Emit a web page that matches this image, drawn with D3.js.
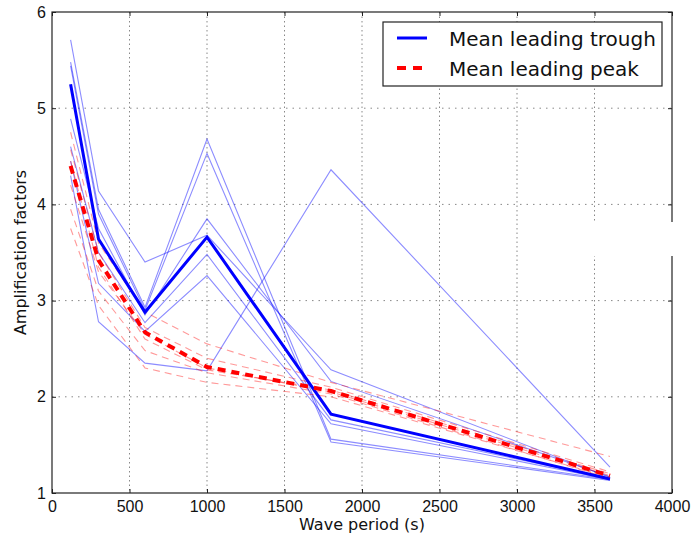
<!DOCTYPE html>
<html>
<head>
<meta charset="utf-8">
<script src="https://cdn.jsdelivr.net/npm/d3@7"></script>
<style>
  body { margin: 0; background: #fff; }
  svg { display: block; font-family: "DejaVu Sans", sans-serif; }
</style>
</head>
<body>
<svg></svg>
<script>
// wave periods (s)
var periods = [120, 300, 600, 1000, 1800, 3600];

// individual runs, leading trough
var troughRuns = [
  [5.71, 4.14, 3.40, 3.68, 2.28, 1.16],
  [5.48, 3.95, 2.93, 4.68, 1.56, 1.14],
  [5.44, 3.90, 2.90, 4.53, 1.53, 1.13],
  [4.89, 3.75, 2.85, 3.85, 2.16, 1.17],
  [4.60, 3.50, 2.77, 3.48, 1.76, 1.15],
  [4.45, 3.18, 2.68, 3.26, 1.72, 1.14],
  [4.30, 2.78, 2.35, 2.27, 4.36, 1.27]
];

// individual runs, leading peak
var peakRuns = [
  [4.75, 3.60, 2.88, 2.55, 2.15, 1.38],
  [4.57, 3.50, 2.72, 2.40, 2.10, 1.22],
  [4.45, 3.35, 2.60, 2.28, 2.07, 1.20],
  [4.20, 3.30, 2.65, 2.30, 2.05, 1.18],
  [3.95, 3.10, 2.48, 2.25, 2.03, 1.15],
  [3.75, 2.95, 2.30, 2.15, 2.00, 1.16]
];

var troughMean = [5.25, 3.64, 2.88, 3.66, 1.82, 1.145];
var peakMean = [4.40, 3.42, 2.67, 2.31, 2.06, 1.18];

var xTicks = [0, 500, 1000, 1500, 2000, 2500, 3000, 3500, 4000];
var yTicks = [1, 2, 3, 4, 5, 6];
var legendLabels = ["Mean leading trough", "Mean leading peak"];

var screen = { width: 695, height: 538 };
var margins = { top: 12, bottom: 45, left: 52, right: 23 };
var width = screen.width - margins.left - margins.right;
var height = screen.height - margins.top - margins.bottom;

var svg = d3.select("svg")
            .attr("width", screen.width)
            .attr("height", screen.height);

var xScale = d3.scaleLinear().domain([0, 4000]).range([0, width]);
var yScale = d3.scaleLinear().domain([1, 6]).range([height, 0]);

var plot = svg.append("g")
              .attr("transform", "translate(" + margins.left + "," + margins.top + ")");

// grid
plot.append("g").selectAll("line")
    .data(xTicks.slice(1, -1))
    .enter().append("line")
    .attr("x1", d => xScale(d)).attr("x2", d => xScale(d))
    .attr("y1", 0).attr("y2", height)
    .attr("stroke", "#888").attr("stroke-width", 1)
    .attr("stroke-dasharray", "1.5,3");

plot.append("g").selectAll("line")
    .data(yTicks.slice(1, -1))
    .enter().append("line")
    .attr("y1", d => yScale(d)).attr("y2", d => yScale(d))
    .attr("x1", 0).attr("x2", width)
    .attr("stroke", "#888").attr("stroke-width", 1)
    .attr("stroke-dasharray", "1.5,5");

var line = d3.line()
             .x((d, i) => xScale(periods[i]))
             .y(d => yScale(d));

plot.append("g").selectAll("path")
    .data(troughRuns)
    .enter().append("path")
    .attr("d", line)
    .attr("fill", "none")
    .attr("stroke", "#0000ff")
    .attr("stroke-opacity", 0.45)
    .attr("stroke-width", 1.1);

plot.append("g").selectAll("path")
    .data(peakRuns)
    .enter().append("path")
    .attr("d", line)
    .attr("fill", "none")
    .attr("stroke", "#ff0000")
    .attr("stroke-opacity", 0.4)
    .attr("stroke-width", 1.1)
    .attr("stroke-dasharray", "7,5");

plot.append("path")
    .attr("d", line(troughMean))
    .attr("fill", "none")
    .attr("stroke", "#0000ff")
    .attr("stroke-width", 3);

plot.append("path")
    .attr("d", line(peakMean))
    .attr("fill", "none")
    .attr("stroke", "#ff0000")
    .attr("stroke-width", 4)
    .attr("stroke-dasharray", "8,6");

// axes with inward ticks, matplotlib style
var fmt = d3.format("d");
var xAxis = d3.axisBottom(xScale).tickValues(xTicks).tickFormat(fmt).tickSize(-4).tickPadding(8);
var yAxis = d3.axisLeft(yScale).tickValues(yTicks).tickFormat(fmt).tickSize(-4).tickPadding(6);

var gx = plot.append("g")
             .attr("transform", "translate(0," + height + ")")
             .call(xAxis);
var gy = plot.append("g").call(yAxis);

plot.append("g").call(d3.axisTop(xScale).tickValues(xTicks).tickSize(-4).tickFormat(""));
plot.append("g").attr("transform", "translate(" + width + ",0)")
    .call(d3.axisRight(yScale).tickValues(yTicks).tickSize(-4).tickFormat(""));

plot.selectAll(".domain").remove();
plot.selectAll(".tick line").attr("stroke", "#222");
gx.selectAll("text").attr("font-size", 16).attr("fill", "#111");
gy.selectAll("text").attr("font-size", 16).attr("fill", "#111");

plot.append("rect")
    .attr("width", width).attr("height", height)
    .attr("fill", "none").attr("stroke", "#222").attr("stroke-width", 1.2);

// white patch over right spine, as in the source picture
svg.append("rect")
   .attr("x", 590).attr("y", 222).attr("width", 90).attr("height", 34)
   .attr("fill", "#fff");

// axis labels
svg.append("text")
   .attr("x", margins.left + width / 2).attr("y", 530)
   .attr("text-anchor", "middle").attr("font-size", 16).attr("fill", "#111")
   .text("Wave period (s)");

svg.append("text")
   .attr("transform", "translate(26," + (margins.top + height / 2) + ") rotate(-90)")
   .attr("text-anchor", "middle").attr("font-size", 16).attr("fill", "#111")
   .text("Amplification factors");

// legend
var legend = svg.append("g").attr("transform", "translate(383,22)");

legend.append("rect")
      .attr("width", 279).attr("height", 64)
      .attr("fill", "#fff").attr("stroke", "#222").attr("stroke-width", 1.2);

var legendStyles = [
  { color: "#0000ff", w: 3, dash: null },
  { color: "#ff0000", w: 4, dash: "9,7" }
];

var legendLines = legend.selectAll("g.legendLines")
                        .data(legendLabels)
                        .enter().append("g")
                        .classed("legendLines", true)
                        .attr("transform", (d, i) => "translate(0," + (16 + i * 30) + ")");

legendLines.append("line")
           .attr("x1", 14).attr("x2", 44)
           .attr("stroke", (d, i) => legendStyles[i].color)
           .attr("stroke-width", (d, i) => legendStyles[i].w)
           .attr("stroke-dasharray", (d, i) => legendStyles[i].dash);

legendLines.append("text")
           .attr("x", 66).attr("y", 8)
           .attr("font-size", 20).attr("fill", "#111")
           .text(d => d);
</script>
</body>
</html>
